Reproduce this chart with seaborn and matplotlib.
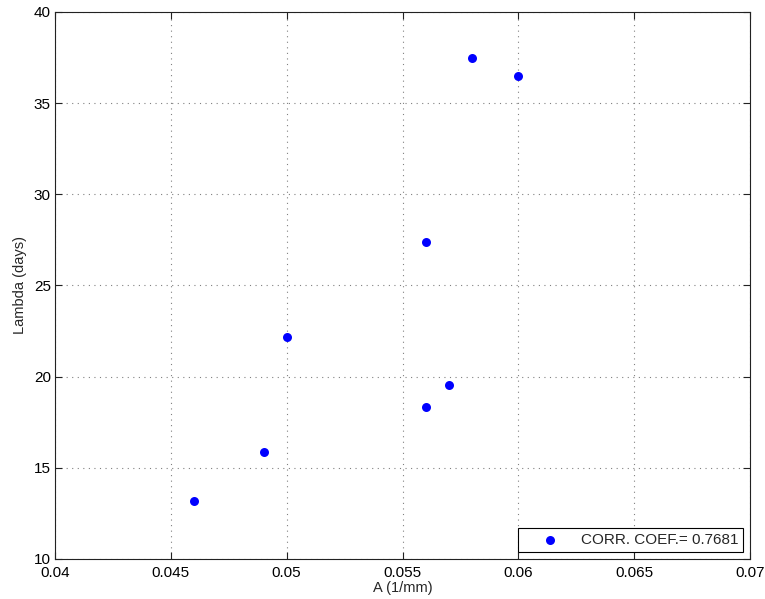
import matplotlib
matplotlib.use("Agg")
import matplotlib.pyplot as plt
import seaborn as sns
import pandas as pd

# Measured parameters
a_values = [0.046, 0.049, 0.050, 0.056, 0.056, 0.057, 0.058, 0.060]
lambda_days = [13.2, 15.85, 22.2, 18.35, 27.4, 19.55, 37.5, 36.5]
corr_label = "CORR. COEF.= 0.7681"

x_ticks = [0.04, 0.045, 0.05, 0.055, 0.06, 0.065, 0.07]
x_tick_labels = ["0.04", "0.045", "0.05", "0.055", "0.06", "0.065", "0.07"]
y_ticks = [10, 15, 20, 25, 30, 35, 40]

df = pd.DataFrame({"A": a_values, "Lambda": lambda_days})

sns.set_style("white")
plt.rcParams["font.family"] = ["Liberation Sans", "DejaVu Sans"]

fig = plt.figure(figsize=(7.65, 5.99), dpi=100)
ax = fig.add_axes([0.0719, 0.0668, 0.9085, 0.9132])

sns.scatterplot(data=df, x="A", y="Lambda", ax=ax, color="#0000ff",
                s=42, edgecolor="#0000ff", linewidth=0, label=corr_label)

ax.set_xlim(0.04, 0.07)
ax.set_ylim(10, 40)
ax.set_xticks(x_ticks)
ax.set_xticklabels(x_tick_labels)
ax.set_yticks(y_ticks)
ax.grid(True, linestyle=(0, (1, 4)), color="#808080", linewidth=0.8)
ax.tick_params(direction="in", length=5, width=0.8, labelsize=11,
               top=True, right=True, bottom=True, left=True,
               labeltop=False, labelright=False, color="#222222",
               labelcolor="black")
ax.tick_params(axis="x", pad=5)
ax.tick_params(axis="y", pad=3)
for lbl in ax.get_yticklabels():
    lbl.set_verticalalignment("center_baseline")
for sp in ax.spines.values():
    sp.set_visible(True)
    sp.set_color("#222222")
    sp.set_linewidth(0.8)

ax.set_xlabel("A (1/mm)", fontsize=10.5, labelpad=1)
ax.set_ylabel("Lambda (days)", fontsize=10.5, labelpad=5)

leg = ax.legend(loc="lower right", fontsize=11, frameon=True, fancybox=False,
                borderpad=0.3, handlelength=3.5, handletextpad=0.3,
                borderaxespad=0.0, bbox_to_anchor=(0.99, 0.0135))
leg.get_frame().set_edgecolor("black")
leg.get_frame().set_linewidth(0.8)
leg.get_frame().set_alpha(1)

fig.savefig("out.png", dpi=100)
